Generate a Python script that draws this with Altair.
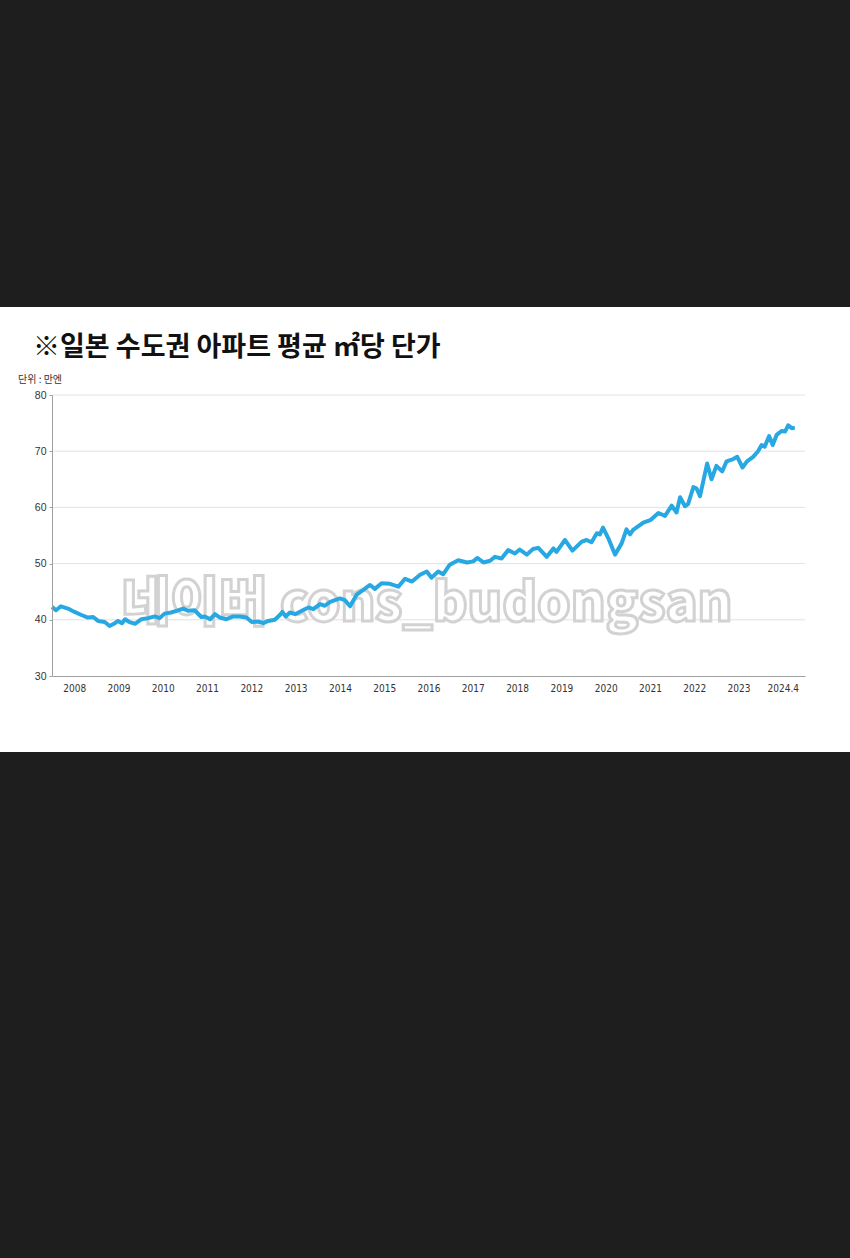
import altair as alt
import pandas as pd

# ---- data (decimal year, 만엔 per ㎡) ----
years = [2008.00, 2008.09, 2008.20, 2008.36, 2008.51, 2008.65, 2008.81, 2008.93,
         2009.04, 2009.19, 2009.30, 2009.42, 2009.49, 2009.58, 2009.65, 2009.75, 2009.88,
         2010.02, 2010.17, 2010.32, 2010.43, 2010.54, 2010.69, 2010.81, 2010.96,
         2011.07, 2011.22, 2011.37, 2011.45, 2011.57, 2011.68, 2011.79, 2011.94,
         2012.09, 2012.24, 2012.39, 2012.51, 2012.66, 2012.77, 2012.88,
         2013.03, 2013.15, 2013.20, 2013.28, 2013.37, 2013.49, 2013.64, 2013.79, 2013.90,
         2014.05, 2014.16, 2014.28, 2014.39, 2014.50, 2014.61, 2014.73, 2014.88,
         2015.02, 2015.18, 2015.29, 2015.44, 2015.63, 2015.82, 2015.97,
         2016.13, 2016.31, 2016.46, 2016.57, 2016.72, 2016.83, 2016.98,
         2017.17, 2017.37, 2017.51, 2017.60, 2017.74, 2017.89,
         2018.00, 2018.15, 2018.30, 2018.45, 2018.56, 2018.72, 2018.86, 2018.98,
         2019.17, 2019.32, 2019.39, 2019.58, 2019.75, 2019.96,
         2020.07, 2020.18, 2020.30, 2020.37, 2020.44, 2020.56, 2020.71, 2020.86, 2020.97,
         2021.05, 2021.12, 2021.35, 2021.52, 2021.69, 2021.84, 2021.99,
         2022.10, 2022.18, 2022.29, 2022.36, 2022.48, 2022.55, 2022.63, 2022.79, 2022.89,
         2023.00, 2023.13, 2023.23, 2023.38, 2023.47, 2023.59, 2023.69, 2023.83, 2023.94,
         2024.02, 2024.09, 2024.19, 2024.27, 2024.36, 2024.47, 2024.55, 2024.62, 2024.70, 2024.77]
values = [42.3, 41.7, 42.4, 42.0, 41.4, 40.9, 40.4, 40.5,
          39.8, 39.6, 38.9, 39.4, 39.8, 39.4, 40.1, 39.6, 39.3,
          40.1, 40.3, 40.6, 40.3, 41.1, 41.3, 41.6, 42.0,
          41.6, 41.7, 40.5, 40.6, 40.1, 41.0, 40.4, 40.1,
          40.6, 40.6, 40.4, 39.6, 39.7, 39.4, 39.8,
          40.0, 40.9, 41.4, 40.6, 41.3, 41.0, 41.6, 42.2, 41.9,
          42.8, 42.5, 43.2, 43.5, 43.8, 43.5, 42.4, 44.5,
          45.3, 46.2, 45.5, 46.5, 46.4, 45.9, 47.3,
          46.8, 48.0, 48.6, 47.5, 48.6, 48.1, 49.8,
          50.6, 50.2, 50.4, 51.0, 50.2, 50.5,
          51.2, 50.9, 52.4, 51.8, 52.5, 51.6, 52.6, 52.8,
          51.2, 52.7, 52.1, 54.2, 52.3, 53.9,
          54.2, 53.8, 55.4, 55.2, 56.4, 54.5, 51.6, 53.6, 56.1,
          55.2, 56.0, 57.3, 57.8, 59.0, 58.5, 60.3,
          59.1, 61.8, 60.2, 60.6, 63.6, 63.4, 62.0, 67.8, 65.0,
          67.4, 66.4, 68.2, 68.6, 69.0, 67.1, 68.2, 69.0, 70.0,
          71.1, 70.8, 72.7, 71.1, 72.9, 73.6, 73.5, 74.6, 74.1, 74.2]

grid_values = [40, 50, 60, 70, 80]
y_tick_values = [30, 40, 50, 60, 70, 80]
x_tick_positions = [2008.5, 2009.5, 2010.5, 2011.5, 2012.5, 2013.5, 2014.5, 2015.5,
                    2016.5, 2017.5, 2018.5, 2019.5, 2020.5, 2021.5, 2022.5, 2023.5, 2024.5]
x_tick_labels = ["2008", "2009", "2010", "2011", "2012", "2013", "2014", "2015",
                 "2016", "2017", "2018", "2019", "2020", "2021", "2022", "2023", "2024.4"]

title_text = "※일본 수도권 아파트 평균 ㎡당 단가"
unit_text = "단위 : 만엔"
watermark_text = "네이버 cons_budongsan"

df = pd.DataFrame({"t": years, "v": values})
grid_df = pd.DataFrame({"v": grid_values})
one = pd.DataFrame({"k": [0]})

label_expr = "{" + ",".join(f"'{p}':'{l}'" for p, l in zip(x_tick_positions, x_tick_labels)) + "}[''+datum.value]"

x_scale = alt.Scale(domain=[2008, 2025], nice=False, zero=False)
y_scale = alt.Scale(domain=[30, 80], nice=False, zero=False)

y_axis = alt.Axis(values=y_tick_values, grid=False, title=None,
                  domainColor="#a0a0a0", tickColor="#a0a0a0", tickSize=3,
                  labelColor="#333333", labelFontSize=10.5,
                  labelFont="Liberation Sans", labelPadding=3, zindex=1)
x_axis = alt.Axis(values=x_tick_positions, labelExpr=label_expr, ticks=False,
                  grid=False, title=None, domainColor="#a0a0a0",
                  labelColor="#333333", labelFontSize=10,
                  labelFont="DejaVu Sans Condensed, Liberation Sans, sans-serif",
                  labelPadding=7, zindex=1)

W, H = 753, 281
PAD_L, PAD_T = 52, 395

panel = alt.Chart(one).mark_rect(color="white", clip=False).encode(
    x=alt.value(-PAD_L), x2=alt.value(850 - PAD_L),
    y=alt.value(307 - PAD_T), y2=alt.value(752 - PAD_T),
)

grid = alt.Chart(grid_df).mark_rule(color="#e2e2e2", strokeWidth=1).encode(
    y=alt.Y("v:Q", scale=y_scale, axis=y_axis)
)

watermark = alt.Chart(one).mark_text(
    text=watermark_text, font="Noto Sans CJK KR", fontWeight=900, fontSize=53,
    fill="white", fillOpacity=0.85, stroke="#d2d2d2", strokeWidth=3,
    align="center", baseline="alphabetic", clip=False,
).encode(x=alt.value(427 - PAD_L), y=alt.value(621 - PAD_T))

line = alt.Chart(df).mark_line(color="#27a8e3", strokeWidth=4, strokeJoin="round").encode(
    x=alt.X("t:Q", scale=x_scale, axis=x_axis),
    y=alt.Y("v:Q", scale=y_scale, axis=y_axis),
)

title = alt.Chart(one).mark_text(
    text=title_text, font="Noto Sans CJK KR", fontWeight="bold", fontSize=27,
    color="#111111", align="left", baseline="alphabetic", clip=False,
).encode(x=alt.value(33 - PAD_L), y=alt.value(356 - PAD_T))

unit = alt.Chart(one).mark_text(
    text=unit_text, font="Noto Sans CJK KR", fontSize=10,
    color="#333333", align="left", baseline="middle", clip=False,
).encode(x=alt.value(18 - PAD_L), y=alt.value(380 - PAD_T))

chart = alt.layer(panel, grid, watermark, line, title, unit).properties(
    width=W, height=H,
    background="#1e1e1e",
    autosize=alt.AutoSizeParams(type="none"),
    padding={"left": PAD_L, "top": PAD_T, "right": 850 - PAD_L - W, "bottom": 1258 - PAD_T - H},
).configure_view(stroke=None)

chart.save("out.html", embed_options={"renderer": "svg", "actions": False})
